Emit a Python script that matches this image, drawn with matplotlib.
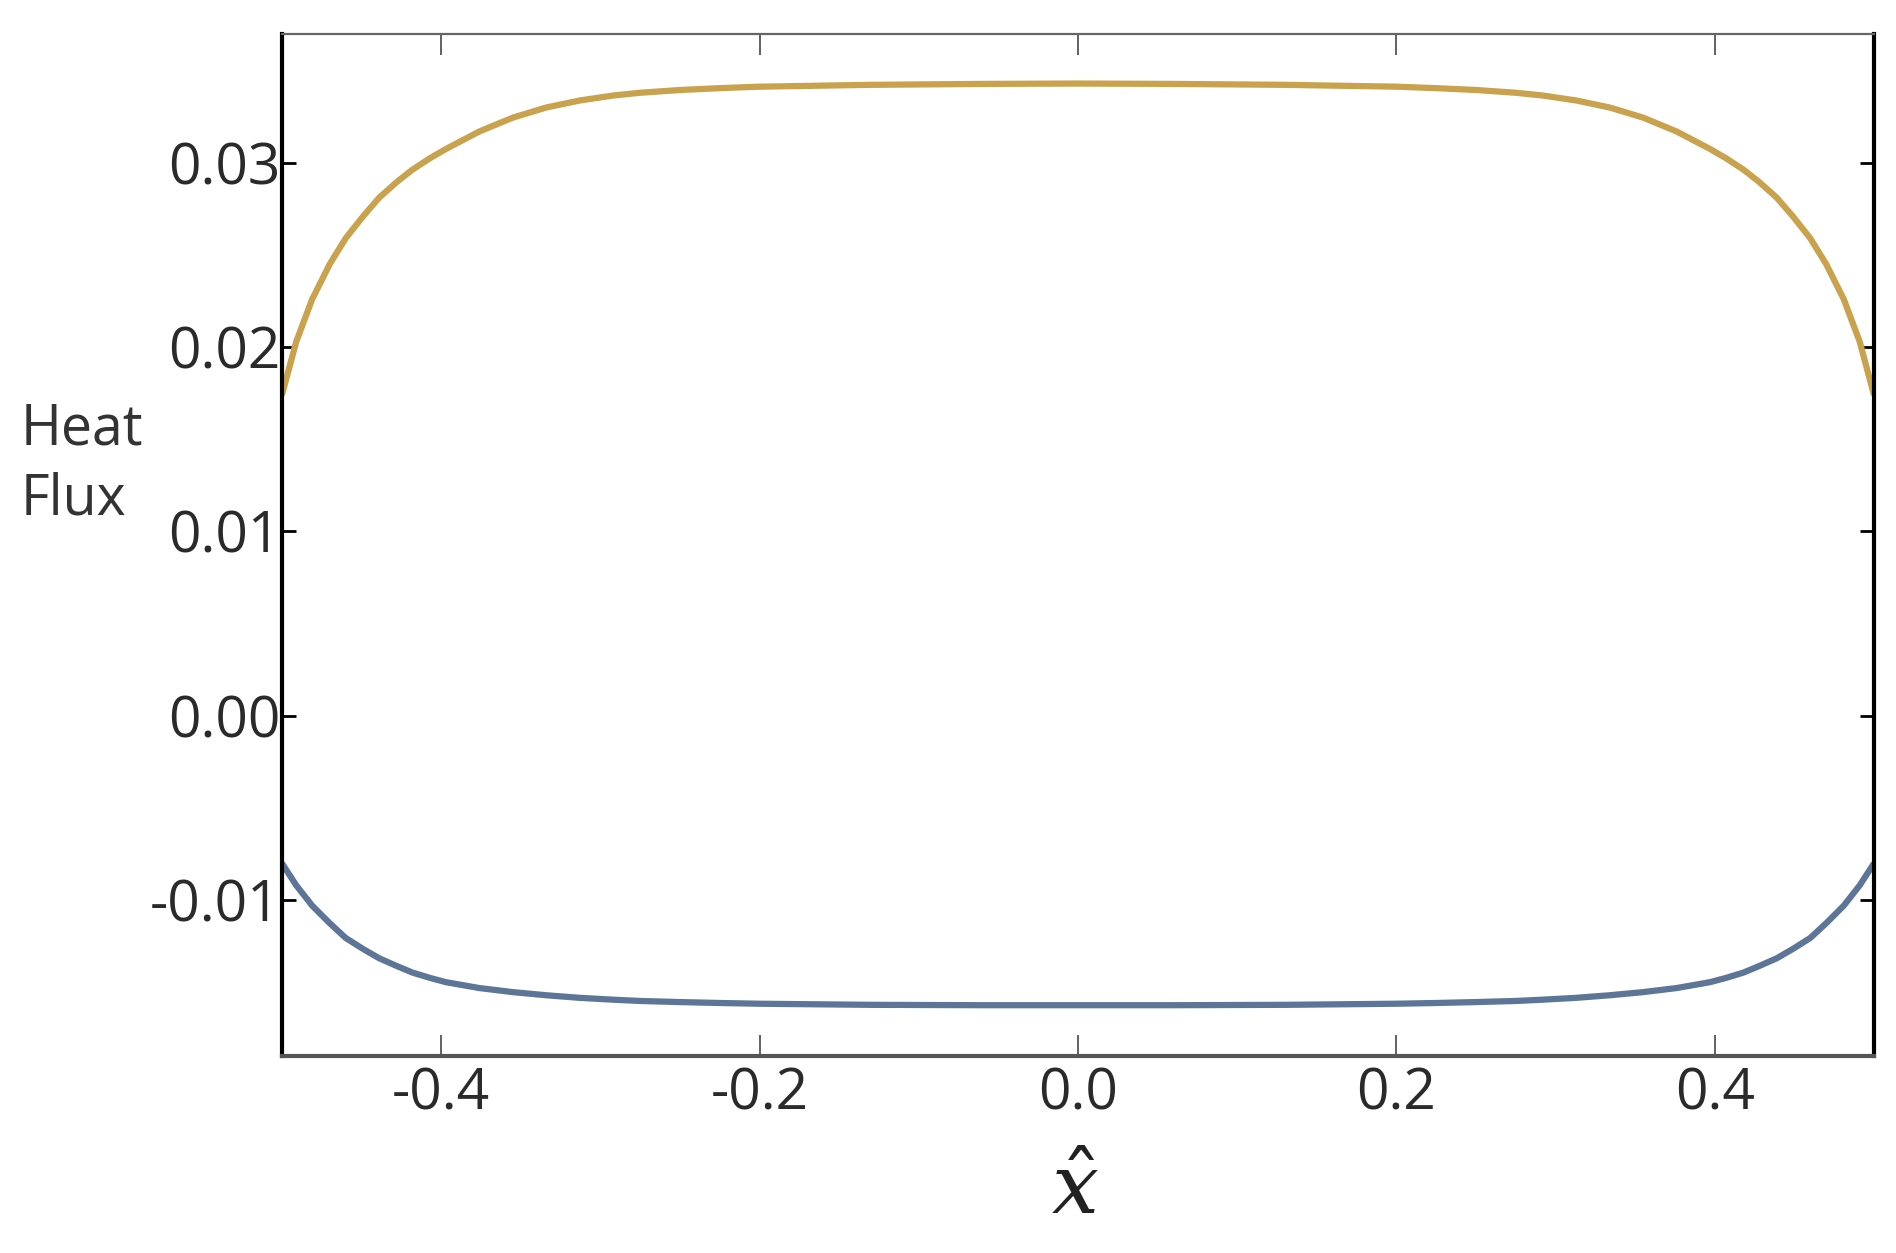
import numpy as np
import matplotlib
matplotlib.use('Agg')
import matplotlib.pyplot as plt

# values
x_hat = [-0.5, -0.491, -0.481, -0.470, -0.460, -0.449, -0.439, -0.428, -0.418,
         -0.407, -0.397, -0.376, -0.355, -0.334, -0.313, -0.292, -0.275, -0.25,
         -0.225, -0.2, -0.13, -0.06, 0.0, 0.06, 0.13, 0.2, 0.225, 0.25, 0.275,
         0.292, 0.313, 0.334, 0.355, 0.376, 0.397, 0.407, 0.418, 0.428, 0.439,
         0.449, 0.460, 0.470, 0.481, 0.491, 0.5]

flux_upper = [0.0174, 0.0203, 0.0226, 0.0245, 0.0259, 0.0271, 0.0281, 0.02895,
              0.02963, 0.03025, 0.03075, 0.0317, 0.03245, 0.0330, 0.03338,
              0.03365, 0.0338, 0.03395, 0.03405, 0.03413, 0.03423, 0.03428,
              0.0343, 0.03428, 0.03423, 0.03413, 0.03405, 0.03395, 0.0338,
              0.03365, 0.03338, 0.0330, 0.03245, 0.0317, 0.03075, 0.03025,
              0.02963, 0.02895, 0.0281, 0.0271, 0.0259, 0.0245, 0.0226, 0.0203,
              0.0174]

flux_lower = [-0.0080, -0.0092, -0.0103, -0.01125, -0.01205, -0.01265, -0.01315,
              -0.01357, -0.01393, -0.01422, -0.01445, -0.01477, -0.01499,
              -0.01516, -0.0153, -0.0154, -0.01547, -0.01553, -0.01558, -0.01562,
              -0.01568, -0.0157, -0.0157, -0.0157, -0.01568, -0.01562, -0.01558,
              -0.01553, -0.01547, -0.0154, -0.0153, -0.01516, -0.01499, -0.01477,
              -0.01445, -0.01422, -0.01393, -0.01357, -0.01315, -0.01265,
              -0.01205, -0.01125, -0.0103, -0.0092, -0.0080]

xticks = [-0.4, -0.2, 0.0, 0.2, 0.4]
yticks = [-0.01, 0.00, 0.01, 0.02, 0.03]

plt.rcParams['font.family'] = ['Open Sans', 'DejaVu Sans']
plt.rcParams['mathtext.fontset'] = 'dejavuserif'

fig = plt.figure(figsize=(18.96, 12.53), dpi=100)
ax = fig.add_axes([0.1487, 0.1576, 0.8397, 0.8153])

ax.plot(x_hat, flux_lower, color='#5d7698', lw=4.5, solid_capstyle='butt')
ax.plot(x_hat, flux_upper, color='#c9a24e', lw=4.5, solid_capstyle='butt')

ax.set_xlim(-0.5, 0.5)
ax.set_ylim(-0.01843, 0.03699)

ax.set_xticks(xticks)
ax.set_xticklabels(['-0.4', '-0.2', '0.0', '0.2', '0.4'])
ax.set_yticks(yticks)
ax.set_yticklabels(['-0.01', '0.00', '0.01', '0.02', '0.03'])

ax.tick_params(axis='x', direction='in', top=True, length=15, width=1.3,
               color='#555555', labelsize=41, pad=8, labelcolor='#2a2a2a')
ax.tick_params(axis='y', direction='in', right=True, length=10, width=2,
               color='black', labelsize=41, pad=1, labelcolor='#2a2a2a')

ax.spines['left'].set_linewidth(3)
ax.spines['left'].set_color('black')
ax.spines['right'].set_linewidth(3)
ax.spines['right'].set_color('black')
ax.spines['bottom'].set_linewidth(3)
ax.spines['bottom'].set_color('#555555')
ax.spines['top'].set_linewidth(1.6)
ax.spines['top'].set_color('#666666')

fig.text(0.011, 0.629, 'Heat\nFlux', fontsize=40, color='#333333',
         ha='left', va='center', linespacing=1.3)
fig.text(0.567, 0.048, r'$\hat{x}$', fontsize=60, color='#222222',
         ha='center', va='center')

fig.savefig('out.png', dpi=100)
